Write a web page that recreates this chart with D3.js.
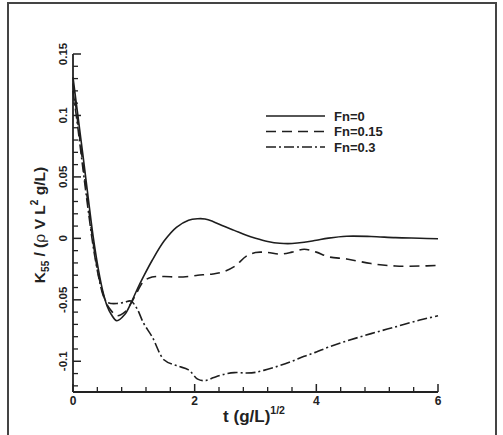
<!DOCTYPE html>
<html lang="en">
<head>
  <meta charset="UTF-8">
  <title>K55 decay curves</title>
  <script src="https://d3js.org/d3.v7.min.js"></script>
  <style>
    body { margin: 0; background: #fff; }
    svg { display: block; font-family: "Liberation Sans", Arial, sans-serif; font-weight: bold; }
    .axis line, .axis path { stroke: #222; }
  </style>
</head>
<body>
  <svg width="503" height="435"></svg>

  <script>
    // time samples t (g/L)^1/2
    const tValues = [0, 0.08, 0.17, 0.25, 0.33, 0.42, 0.5, 0.56, 0.63, 0.72, 0.85, 0.95, 1.05, 1.16, 1.3, 1.5, 1.7, 1.9,
      2.05, 2.17, 2.3, 2.45, 2.65, 2.85, 3.0, 3.2, 3.4, 3.6, 3.8, 4.0, 4.2, 4.5, 4.9, 5.3, 5.7, 6.0];

    const fn0 = [0.131, 0.100, 0.065, 0.033, 0.002, -0.026, -0.045, -0.055, -0.062, -0.067, -0.062, -0.053, -0.042, -0.031,
      -0.018, -0.002, 0.009, 0.0148, 0.016, 0.0158, 0.0138, 0.0105, 0.0065, 0.0025, 0.0001, -0.0025, -0.004, -0.0042,
      -0.0032, -0.0015, 0.0002, 0.0017, 0.0015, 0.0006, 0.0001, -0.0003];

    const fn015 = [0.126, 0.094, 0.058, 0.027, -0.003, -0.030, -0.046, -0.054, -0.059, -0.063, -0.060, -0.053, -0.044,
      -0.035, -0.0315, -0.031, -0.0315, -0.031, -0.030, -0.0295, -0.029, -0.0275, -0.023, -0.0145, -0.0115, -0.0115,
      -0.0128, -0.0112, -0.0088, -0.0112, -0.015, -0.0168, -0.0205, -0.0225, -0.0225, -0.022];

    const fn03 = [0.120, 0.090, 0.054, 0.023, -0.006, -0.031, -0.047, -0.052, -0.053, -0.053, -0.052, -0.051, -0.057,
      -0.069, -0.080, -0.099, -0.1035, -0.107, -0.1145, -0.1158, -0.1135, -0.111, -0.1092, -0.1095, -0.109, -0.1065,
      -0.1035, -0.100, -0.096, -0.0925, -0.0885, -0.0835, -0.0775, -0.072, -0.0665, -0.063];

    const seriesNames = ["Fn=0", "Fn=0.15", "Fn=0.3"];
    const dashes = [null, "10,6", "10,3,2,3"];

    const xMajor = [0, 2, 4, 6];
    const yMajor = [-0.1, -0.05, 0, 0.05, 0.1, 0.15];
    const yLabels = ["-0.1", "-0.05", "0", "0.05", "0.1", "0.15"];

    const svg = d3.select("svg");

    // outer frame
    svg.append("rect")
      .attr("x", 8).attr("y", 3)
      .attr("width", 488).attr("height", 445)
      .attr("fill", "none")
      .attr("stroke", "#444")
      .attr("stroke-width", 2);

    const x = d3.scaleLinear().domain([0, 6]).range([73, 438]);
    const y = d3.scaleLinear().domain([-0.125, 0.15]).range([392, 54]);

    // minor ticks
    const xMinor = d3.range(0.4, 6, 0.4).filter(v => Math.abs(v / 2 - Math.round(v / 2)) > 1e-6);
    const yMinor = d3.range(-12, 16).map(v => v / 100).filter(v => Math.abs(v * 20 - Math.round(v * 20)) > 1e-6);

    const gx = svg.append("g").attr("class", "axis");
    gx.selectAll(".minor").data(xMinor).enter().append("line")
      .attr("x1", d => x(d)).attr("x2", d => x(d))
      .attr("y1", 392).attr("y2", 387)
      .attr("stroke-width", 1.3);
    gx.selectAll(".major").data(xMajor).enter().append("line")
      .attr("x1", d => x(d)).attr("x2", d => x(d))
      .attr("y1", 392).attr("y2", 384)
      .attr("stroke-width", 1.5);
    gx.append("line")
      .attr("x1", x(0)).attr("x2", x(6))
      .attr("y1", 392).attr("y2", 392)
      .attr("stroke-width", 1.8);
    gx.selectAll("text").data(xMajor).enter().append("text")
      .attr("x", d => x(d)).attr("y", 405)
      .attr("text-anchor", "middle")
      .attr("font-size", 12)
      .attr("fill", "#222")
      .text(d => d);

    const gy = svg.append("g").attr("class", "axis");
    gy.selectAll(".minor").data(yMinor).enter().append("line")
      .attr("x1", 73).attr("x2", 78)
      .attr("y1", d => y(d)).attr("y2", d => y(d))
      .attr("stroke-width", 1.3);
    gy.selectAll(".major").data(yMajor).enter().append("line")
      .attr("x1", 73).attr("x2", 81)
      .attr("y1", d => y(d)).attr("y2", d => y(d))
      .attr("stroke-width", 1.5);
    gy.append("line")
      .attr("x1", 73).attr("x2", 73)
      .attr("y1", y(-0.125)).attr("y2", y(0.15))
      .attr("stroke-width", 1.8);
    gy.selectAll("text").data(yMajor).enter().append("text")
      .attr("transform", d => `translate(67,${y(d)}) rotate(-90)`)
      .attr("text-anchor", "middle")
      .attr("font-size", 11.5)
      .attr("fill", "#222")
      .text((d, i) => yLabels[i]);

    // axis titles
    const xt = svg.append("text")
      .attr("x", 254).attr("y", 422)
      .attr("text-anchor", "middle")
      .attr("font-size", 17)
      .attr("fill", "#222");
    xt.append("tspan").text("t (g/L)");
    xt.append("tspan").attr("font-size", 10.5).attr("dy", -8).text("1/2");

    const yt = svg.append("text")
      .attr("transform", "translate(45,225) rotate(-90)")
      .attr("text-anchor", "middle")
      .attr("font-size", 15.5)
      .attr("fill", "#222");
    yt.append("tspan").text("K");
    yt.append("tspan").attr("font-size", 10).attr("dy", 4).text("55");
    yt.append("tspan").attr("dy", -4).text(" / (");
    yt.append("tspan").attr("font-family", "DejaVu Serif").attr("font-weight", "normal").text("ρ");
    yt.append("tspan").text(" V L");
    yt.append("tspan").attr("font-size", 10).attr("dy", -7).text("2");
    yt.append("tspan").attr("dy", 7).text(" g/L)");

    // curves
    const allSeries = [fn0, fn015, fn03];
    const line = d3.line()
      .x((d, i) => x(tValues[i]))
      .y(d => y(d))
      .curve(d3.curveCatmullRom.alpha(0.5));

    svg.append("g").selectAll("path").data(allSeries).enter().append("path")
      .attr("d", line)
      .attr("fill", "none")
      .attr("stroke", "#1e1e1e")
      .attr("stroke-width", 1.6)
      .attr("stroke-dasharray", (d, i) => dashes[i]);

    // legend
    const legend = svg.append("g");
    seriesNames.forEach((name, i) => {
      const ly = 116 + i * 15.5;
      legend.append("line")
        .attr("x1", 266).attr("x2", 325)
        .attr("y1", ly).attr("y2", ly)
        .attr("stroke", "#1e1e1e")
        .attr("stroke-width", 1.6)
        .attr("stroke-dasharray", dashes[i]);
      legend.append("text")
        .attr("x", 334).attr("y", ly + 4.5)
        .attr("font-size", 13)
        .attr("fill", "#222")
        .text(name);
    });
  </script>
</body>
</html>
